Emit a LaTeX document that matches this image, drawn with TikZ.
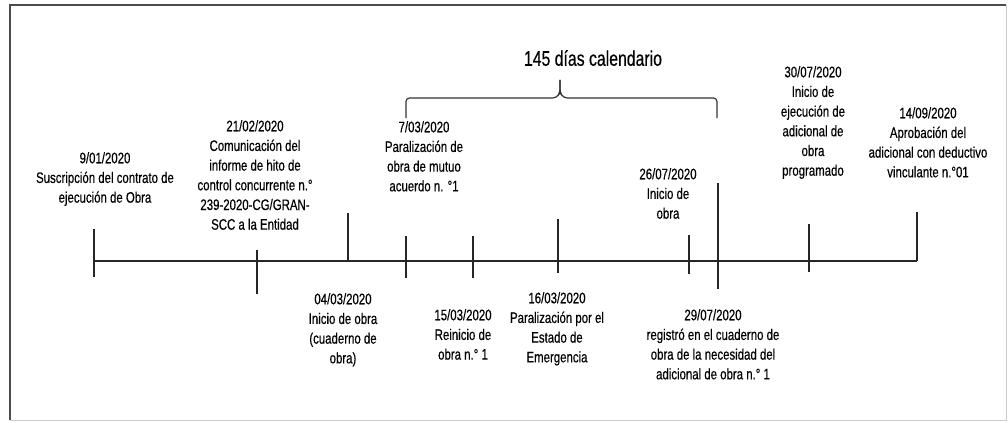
\documentclass[tikz,border=0pt]{standalone}
\usepackage{fontspec}
\setmainfont[FakeStretch=0.75, FakeBold=0.4]{Liberation Sans}
\usepackage{tikz}
\usetikzlibrary{positioning}

\tikzstyle{datebox} = [anchor=north, align=center, inner sep=0pt, font=\fontsize{13}{16.8}\selectfont]
\tikzstyle{bracetitle} = [anchor=north, inner sep=0pt, font=\fontsize{18}{20}\selectfont]
\tikzstyle{axisline} = [line width=1.3pt, black!85]
\tikzstyle{tickline} = [line width=0.9pt, black!85]
\tikzstyle{bracket} = [line width=1pt, black!80, rounded corners=3pt]

\begin{document}
\begin{tikzpicture}[x=0.03cm, y=-0.03cm]
    \useasboundingbox (0,0) rectangle (1008,423);

    % marco
    \draw [black!70, line width=1pt] (10,420) -- (10,5) -- (1006,5);
    \draw [black!20, line width=0.8pt] (1006,5) -- (1006,420) -- (10,420);

    % linea de tiempo
    \coordinate (ini) at (94,261);
    \coordinate (fin) at (917,261);
    \draw [axisline] (ini) -- (fin);

    \draw [tickline] (94,229) -- (94,277);
    \draw [tickline] (257,250) -- (257,294);
    \draw [tickline] (348,213) -- (348,261);
    \draw [tickline] (406,236) -- (406,278);
    \draw [tickline] (473,236) -- (473,278);
    \draw [tickline] (558,219) -- (558,273);
    \draw [tickline] (689,235) -- (689,274);
    \draw [tickline] (718,183) -- (718,289);
    \draw [tickline] (809,224) -- (809,272);
    \draw [tickline] (917,212) -- (917,261);

    % eventos arriba
    \node (ev1) [datebox] at (105,152) {9/01/2020\\Suscripción del contrato de\\ejecución de Obra};
    \node (ev2) [datebox] at (255,120) {21/02/2020\\Comunicación del\\informe de hito de\\control concurrente n.°\\239-2020-CG/GRAN-\\SCC a la Entidad};
    \node (ev4) [datebox] at (424,121) {7/03/2020\\Paralización de\\obra de mutuo\\acuerdo n. °1};
    \node (ev8) [datebox] at (668,168) {26/07/2020\\Inicio de\\obra};
    \node (ev10) [datebox] at (813,66) {30/07/2020\\Inicio de\\ejecución de\\adicional de\\obra\\programado};
    \node (ev11) [datebox] at (928,107) {14/09/2020\\Aprobación del\\adicional con deductivo\\vinculante n.°01};

    % eventos abajo
    \node (ev3) [datebox] at (343,293) {04/03/2020\\Inicio de obra\\(cuaderno de\\obra)};
    \node (ev5) [datebox] at (463,309) {15/03/2020\\Reinicio de\\obra n.° 1};
    \node (ev6) [datebox] at (557,292) {16/03/2020\\Paralización por el\\Estado de\\Emergencia};
    \node (ev9) [datebox] at (713,309) {29/07/2020\\registró en el cuaderno de\\obra de la necesidad del\\adicional de obra n.° 1};

    % llave de 145 dias
    \node (dias) [bracetitle] at (593,50) {145 días calendario};
    \coordinate (llaveA) at (406,118);
    \coordinate (llaveB) at (717,118);
    \coordinate (pico) at (560,80);
    \draw [bracket] (llaveA) -- (406,98) -- (556,98) -- (560,93) -- (pico);
    \draw [bracket] (pico) -- (560,93) -- (564,98) -- (717,98) -- (llaveB);
\end{tikzpicture}
\end{document}
